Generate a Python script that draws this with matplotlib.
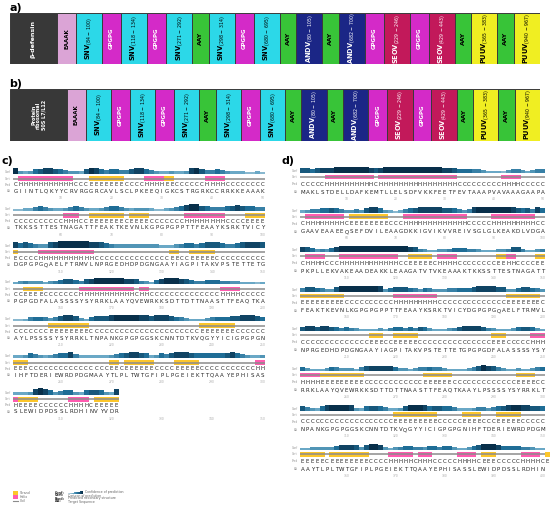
import numpy as np
import matplotlib.pyplot as plt
from matplotlib.patches import Rectangle
from matplotlib.colors import LinearSegmentedColormap
from itertools import groupby

# ---------------- panels a / b : construct maps
segments = ['ADJ', 'EAAAK', 'SNV', 'GPGPG', 'SNV', 'GPGPG', 'SNV', 'AAY', 'SNV',
            'GPGPG', 'SNV', 'AAY', 'ANDV', 'AAY', 'ANDV', 'GPGPG', 'SEOV',
            'GPGPG', 'SEOV', 'AAY', 'PUUV', 'AAY', 'PUUV']
ranges = [None, None, '84-100', None, '118-134', None, '271-292', None, '298-314',
          None, '680-695', None, '80-105', None, '682-700', None, '229-246',
          None, '429-443', None, '365-383', None, '940-967']
adjuvant_a = 'β-defensin'
adjuvant_b = 'Protein\nribosomal\n50S L7/L12'

seg_colors = {'ADJ': '#383838', 'EAAAK': '#dba4d6', 'SNV': '#2cd8e8',
              'GPGPG': '#d42ac8', 'AAY': '#38c438', 'ANDV': '#1b2686',
              'SEOV': '#c2195a', 'PUUV': '#f0ee22'}
white_text = {'ADJ', 'GPGPG', 'ANDV', 'SEOV'}

# ---------------- panels c / d : secondary structure predictions (50 per row)
c_seq = ['GIINTLQKYYCRVRGGRCAVLSCLPKEEQIGKCSTRGRKCCRRKKEAAAK',
         'TKKSSTTESTNAGATTFEAKTKEVNLKGPGPGPPTTFEAAYKSRKTVICY',
         'DGPGPGQAELFTRMVLNPRGEDHDPDGNGAAYIAGPITAKVPSTETTETG',
         'PGPGDFALASSSSYSYRRKLAAYQVEWRKKSDTTDTTNAASTTFEAQTKA',
         'AYLPSSSSYSYRRKLTNPANKGPGPGGSKCNNTDTKVQGYYICIGPGPGN',
         'IHFTDERIEWRDPDGMAAYTLPLTWTGFIPLPGEIEKTTQAAYEPHISAS',
         'SLEWIDPDSSLRDHINVYVDR']
c_pred = ['C' 'HHHHHHHHHHH' 'CCC' 'EEEEEEE' 'CCCC' 'HHHH' 'EE' 'CCCCCC' 'HHHH' 'CCCCCCCC',
          'CCCCCCCCCC' 'HHH' 'CC' 'EEEEEEE' 'C' 'EEEE' 'CCCCCCC' 'HHHHHHHH' 'CCCC' 'EEEE',
          'E' 'CCCC' 'HHHHHHHHHHH' 'CCCCCCCCCCCCCCC' 'EE' 'CC' 'EEEEE' 'CCCCCCCCCC',
          'CC' 'EEEE' 'CCCCCCC' 'HHHHHHHHHHH' 'C' 'HH' 'CCCCCCCCCCCCCC' 'HHHH' 'CCCCC',
          'CCCCCCC' 'EEEEEEEE' 'CCCCCCCCCCCCCCCCCCCCCC' 'EEEEEEE' 'CCCCCC',
          'EEE' 'CCCCCCCCCCCCCCCC' 'EE' 'C' 'EEEEEE' 'CCCC' 'EEEEE' 'CCCCCCCCCCC' 'HH',
          'H' 'EEEE' 'CCCCCC' 'HHHH' 'C' 'EEEEE']
c_conf = ['9434678876' '5443798656' '6557886543' '3433489755' '6543332232',
          '2233565433' '4565433456' '6543444322' '3456899765' '5567876655',
          '8676544789' '9999988765' '4444444443' '3345665677' '7655678887',
          '3454443456' '7765789999' '9988754368' '9998765566' '6554433323',
          '2235665457' '8874367778' '9999988788' '8765433345' '6667788876',
          '3346543456' '6853333334' '5678876346' '5788876666' '6678654334',
          '333489864566436776438']

d_seq = ['MAKLSTDELLDAFKEMTLLELSDFVKKFEETFEVTAAAPVAVAAAGAAPA',
         'GAAVEAAEEQSEFDVILEAAGDKKIGVIKVVREIVSGLGLKEAKDLVDGA',
         'PKPLLEKVAKEAADEAKKLEAAGATVTVKEAAAKTKKSSTTESTNAGATT',
         'FEAKTKEVNLKGPGPGPPTTFEAAYKSRKTVICYDGPGPGQAELFTRMVL',
         'NPRGEDHDPDGNGAAYIAGPITAKVPSTETTETGPGPGDFALASSSSYSY',
         'RRKLAAYQVEWRKKSDTTDTTNAASTTFEAQTKAAYLPSSSSYSYRRKLT',
         'NPANKGPGPGGSKCNNTDTKVQGYYICIGPGPGNIHFTDERIEWRDPDGM',
         'AAYTLPLTWTGFIPLPGEIEKTTQAAYEPHISASSLEWIDPDSSLRDHIN']
d_pred = ['CCCCC' 'HHHHHHHHHH' 'C' 'HHHHHHHHHHHHHHHH' 'CCCCCCCCC' 'HHHH' 'CCCCC',
          'C' 'HHHHHHHH' 'C' 'EEEEEEEE' 'CCC' 'HHHHHHHHHHHHH' 'CCCCC' 'HHHHHHHHH' 'CC',
          'C' 'HHHH' 'CCC' 'HHHHHHHHHHHH' 'CC' 'EEEEE' 'C' 'HHHH' 'CCCCCCCC' 'EE' 'HH' 'CCCC' 'EE',
          'EEEEEEEEE' 'CCCCCCCCCC' 'HHHHHHHHH' 'CCCCCCCCCCCCCC' 'EEEEEEE' 'C',
          'CCCCCCCCCCCCCC' 'EEE' 'CC' 'EEEEE' 'CCCCCCCCCCCCCCC' 'EEE' 'CCCCC' 'HHH',
          'HHHH' 'EEEEEEEEE' 'CCCCCCCCCCCC' 'EEEEEE' 'CCCCCCCCCCCCC' 'EEEE' 'CC',
          'CCCCCCCCCCCCCCCCCCC' 'EEEEEEEEE' 'CCCCC' 'EEEE' 'CCC' 'EEEEE' 'CCCCC',
          'EEEEE' 'C' 'EEEEEEEE' 'CCCC' 'HHHHH' 'C' 'HHH' 'CCCCC' 'HHHH' 'C' 'EEE' 'CCCCC' 'HHHH' 'C' 'E']
d_conf = ['7767888999' '9999878999' '9999999998' '8766655433' '3245543455',
          '3455667654' '4547886432' '3567888887' '7654589999' '9998767586',
          '8764546899' '9999999999' '9987543344' '5666554333' '4457753345',
          '5776544799' '9999998467' '7765465444' '5566678888' '7744677654',
          '7887887656' '5433334356' '6565764333' '4578888754' '3334677643',
          '6433346544' '4357888886' '4434556554' '3333457987' '5433433456',
          '7543689999' '8436776533' '4799986776' '6533345545' '6789988776',
          '3344444688' '8747998434' '5665546656' '6433467999' '8666655433']

legend_ss = ['Strand', 'Helix', 'Coil']
legend_rows = [('Conf:', 'Confidence of prediction'), ('Cart:', 'Cartoon of prediction'),
               ('Pred:', 'Predicted secondary structure'), ('AA:', 'Target Sequence')]

W, H = 550.0, 509.0
fig = plt.figure(figsize=(5.5, 5.09), dpi=100)
fig.patch.set_facecolor('white')


def px_axes(x0, y0, x1, y1):
    return fig.add_axes([x0 / W, 1 - y1 / H, (x1 - x0) / W, (y1 - y0) / H])


def draw_construct(ax, adj_label, adj_w, adj_size):
    base = {'EAAAK': 19, 'GPGPG': 19, 'AAY': 16.5}
    rest = np.array([base.get(s, 26) for s in segments[1:]], dtype=float)
    rest *= (530 - adj_w) / rest.sum()
    widths = np.r_[adj_w, rest]
    lefts = np.r_[0, np.cumsum(widths)[:-1]]
    ax.bar(lefts, 1, width=widths, align='edge', color=[seg_colors[s] for s in segments],
           edgecolor='#3a3a3a', linewidth=0.7)
    for s, r, l, w in zip(segments, ranges, lefts, widths):
        tc = 'white' if s in white_text else 'black'
        xc = l + w / 2
        if s == 'ADJ':
            ax.text(xc, 0.5, adj_label, rotation=90, ha='center', va='center',
                    color=tc, fontsize=adj_size, fontweight='bold', linespacing=1.0)
        elif r:
            a, b = r.split('-')
            ax.text(xc, 0.5, r'$\mathbf{%s}_{\rm (%s\,-\,%s)}$' % (s, a, b), rotation=90,
                    ha='center', va='center', color=tc, fontsize=4.8)
        else:
            ax.text(xc, 0.5, s, rotation=90, ha='center', va='center', color=tc,
                    fontsize=4.4 if s == 'AAY' else 4.0, fontweight='bold')
    ax.set_xlim(0, 530)
    ax.set_ylim(0, 1)
    ax.axis('off')


draw_construct(px_axes(10, 13, 540, 64), adjuvant_a, 47, 4.6)
draw_construct(px_axes(10, 89, 540, 141), adjuvant_b, 57, 3.5)

cmap = LinearSegmentedColormap.from_list('conf', ['#c4d6e0', '#6aa8c6', '#1f6d96', '#082f4a'])
pink, gold = '#ff5cb0', '#fcc62a'


def draw_psipred(ax, seqs, preds, confs, y_first, step, off, conf_h):
    o_conf, o_cart, o_pred, o_tick = off
    for k, (aa, ss, cf) in enumerate(zip(seqs, preds, confs)):
        y = y_first + k * step
        n = len(aa)
        cv = np.array([int(c) for c in cf])
        ax.bar(np.arange(len(cv)), -(cv + 1) / 10.0 * conf_h, width=1, bottom=y + o_conf,
               align='edge', color=cmap(cv / 9.0), linewidth=0)
        ax.plot([0, n], [y + o_cart] * 2, color='#8c8c8c', lw=1.1, solid_capstyle='butt')
        i = 0
        for ch, grp in groupby(ss):
            ln = len(list(grp))
            if ch in 'HE':
                ax.add_patch(Rectangle((i, y + o_cart - 2.3), ln, 4.6,
                                       color=pink if ch == 'H' else gold, lw=0))
            i += ln
        for i, s in enumerate(ss):
            ax.text(i + 0.5, y + o_pred, s, fontsize=4, ha='center', va='center', color='#222222')
        for i, a in enumerate(aa):
            ax.text(i + 0.5, y, a, fontsize=4, ha='center', va='center', color='#222222')
        for t in range(10, 51, 10):
            ax.text(t - 0.5, y + o_tick, str(k * 50 + t), fontsize=2.2, ha='center',
                    va='center', color='#aaaaaa')
        for lab, dy in zip(['Conf', 'Cart', 'Pred', 'AA'], [o_conf - 2, o_cart, o_pred, 0]):
            ax.text(-0.4, y + dy, lab, fontsize=2, ha='right', va='center', color='#999999')


ax_c = px_axes(0, 150, 278, 509)
ax_c.set_xlim(-13 / 5.04, (278 - 13) / 5.04)
ax_c.set_ylim(509, 150)
ax_c.axis('off')
draw_psipred(ax_c, c_seq, c_pred, c_conf, 191, 36.8, (-17, -12.5, -6.5, 7), 6.5)

ax_d = px_axes(278, 150, 550, 509)
ax_d.set_xlim((278 - 300) / 4.9, (550 - 300) / 4.9)
ax_d.set_ylim(509, 150)
ax_d.axis('off')
draw_psipred(ax_d, d_seq, d_pred, d_conf, 192, 39.6, (-19, -15, -8, 6.5), 6)

# overlay for panel letters and the legend
ov = px_axes(0, 0, 550, 509)
ov.set_xlim(0, 550)
ov.set_ylim(509, 0)
ov.axis('off')
for lab, x, y in [('a)', 9, 8), ('b)', 9, 84), ('c)', 2, 161), ('d)', 281, 161)]:
    ov.text(x, y, lab, fontsize=8, fontweight='bold', ha='left', va='center')

for j, name in enumerate(legend_ss):
    yy = 493 + 4 * j
    if name == 'Coil':
        ov.plot([13, 18], [yy, yy], color='#8c8c8c', lw=0.8)
    else:
        ov.add_patch(Rectangle((13, yy - 1.8), 4.5, 3.6, color=gold if name == 'Strand' else pink, lw=0))
    ov.text(20, yy, name, fontsize=2.3, va='center', color='#666666')

for j, (key, desc) in enumerate(legend_rows):
    yy = 492.5 + 3 * j
    ov.text(55, yy, key, fontsize=2.4, va='center', fontweight='bold', color='#333333')
    if j == 0:
        wl = np.arange(15)
        ov.bar(68 + wl, -(wl + 1) / 15.0 * 2.5, width=1, bottom=yy + 1, align='edge',
               color=cmap(wl / 14.0), linewidth=0)
        ov.text(85, yy, desc, fontsize=2.3, va='center', color='#666666')
    else:
        ov.text(68, yy, desc, fontsize=2.3, va='center', color='#666666')

fig.savefig('out.png', dpi=100, facecolor='white')
